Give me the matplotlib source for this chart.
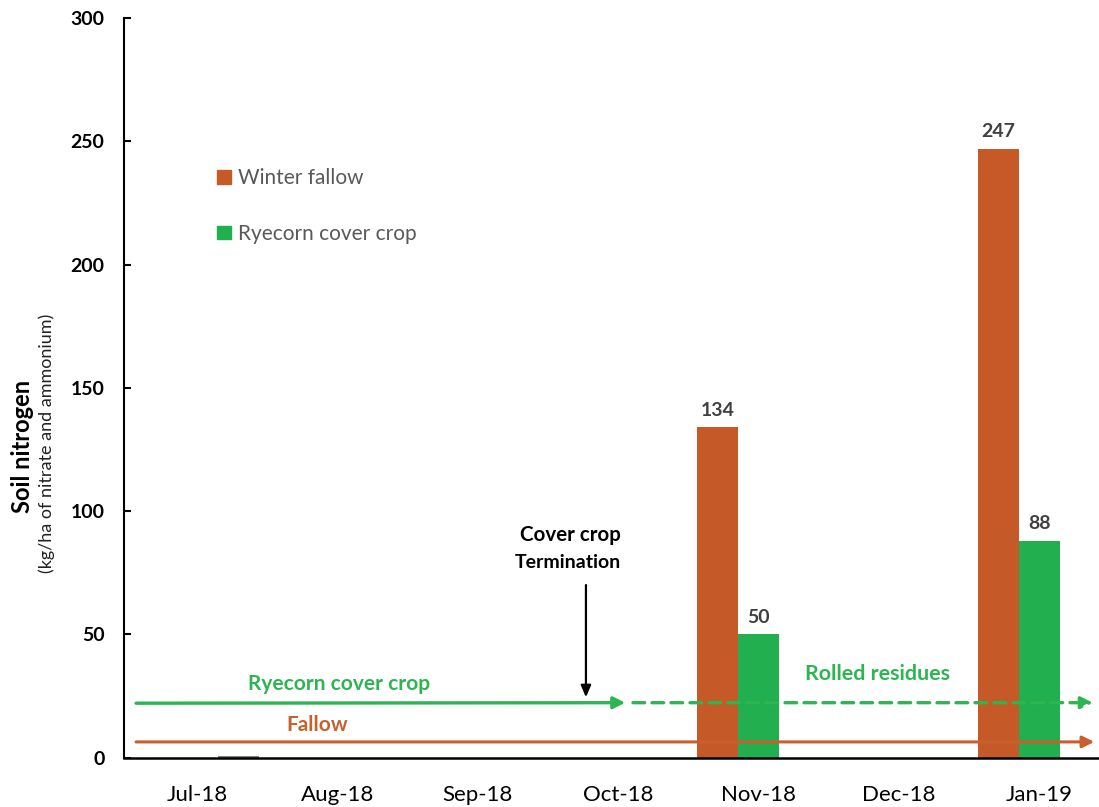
import numpy as np
import matplotlib
matplotlib.use("Agg")
import matplotlib.pyplot as plt
from matplotlib.patches import Patch

plt.rcParams['font.family'] = ['Lato', 'DejaVu Sans']

# Sampling months and soil mineral-N measurements (kg N/ha)
months = ["Jul-18", "Aug-18", "Sep-18", "Oct-18", "Nov-18", "Dec-18", "Jan-19"]
winter_fallow = [np.nan, np.nan, np.nan, np.nan, 134, np.nan, 247]
ryecorn_cover = [np.nan, np.nan, np.nan, np.nan, 50, np.nan, 88]
initial_sample = [0.6, np.nan, np.nan, np.nan, np.nan, np.nan, np.nan]
y_ticks = [0, 50, 100, 150, 200, 250, 300]

ORANGE = "#C55A28"
GREEN = "#21AF50"
ARROW_GREEN = "#2DB551"
ARROW_ORANGE = "#C8602B"
LABEL_GREY = "#404040"

fig = plt.figure(figsize=(10.99, 8.07), dpi=100)
ax = fig.add_axes([124 / 1099, 0.0611, 975 / 1099, 0.9167])

x = np.arange(len(months))
w = 0.292
ax.bar(x - w, winter_fallow, width=w, color=ORANGE, label="Winter fallow", zorder=2)
ax.bar(x, ryecorn_cover, width=w, color=GREEN, label="Ryecorn cover crop", zorder=2)
ax.bar(x + w, initial_sample, width=w, color="#808080", zorder=2)

# value labels above the bars
for xs, vals in ((x - w, winter_fallow), (x, ryecorn_cover)):
    for xi, v in zip(xs, vals):
        if not np.isnan(v):
            ax.annotate(f"{v:g}", (xi, v), xytext=(0, 6), textcoords="offset points",
                        ha="center", va="bottom", fontsize=14, fontweight="bold",
                        color=LABEL_GREY, zorder=4)

ax.set_xlim(-0.52, 6.424)
ax.set_ylim(0, 300)
ax.set_xticks(x)
ax.set_xticklabels(months, fontsize=16)
ax.set_yticks(y_ticks)
ax.set_yticklabels([str(t) for t in y_ticks], fontsize=14, fontweight="bold")
ax.tick_params(axis="x", length=0, pad=20)
ax.tick_params(axis="y", direction="in", length=5, width=1.5, pad=14)

for s in ("top", "right"):
    ax.spines[s].set_visible(False)
ax.spines["left"].set_linewidth(1.5)
ax.spines["bottom"].set_linewidth(1.8)
ax.spines["bottom"].set_zorder(5)

# y-axis titles
fig.text(22 / 1099, 1 - 446 / 807, "Soil nitrogen", rotation=90, ha="center", va="center",
         fontsize=17, fontweight="bold")
fig.text(47 / 1099, 1 - 443 / 807, "(kg/ha of nitrate and ammonium)", rotation=90,
         ha="center", va="center", fontsize=13, color="#222222")

# management timeline arrows
arrow_kw = dict(arrowstyle="-|>,head_length=0.7,head_width=0.35", shrinkA=0, shrinkB=0)
ax.annotate("", xy=(3.05, 22.3), xytext=(-0.434, 22.1),
            arrowprops=dict(color=ARROW_GREEN, lw=2.4, **arrow_kw), zorder=3)
ax.annotate("", xy=(6.38, 22.3), xytext=(3.105, 22.3),
            arrowprops=dict(color=ARROW_GREEN, lw=2.4, linestyle=(0, (3.5, 2.2)), **arrow_kw),
            zorder=3)
ax.annotate("", xy=(6.39, 6.4), xytext=(-0.434, 6.4),
            arrowprops=dict(color=ARROW_ORANGE, lw=2.2, **arrow_kw), zorder=3)
ax.annotate("", xy=(2.77, 24.5), xytext=(2.77, 70.0),
            arrowprops=dict(color="black", lw=1.6,
                            arrowstyle="-|>,head_length=0.7,head_width=0.3",
                            shrinkA=0, shrinkB=0), zorder=3)

ax.text(1.01, 29.8, "Ryecorn cover crop", ha="center", va="center", fontsize=15,
        fontweight="bold", color=ARROW_GREEN)
ax.text(0.855, 13.2, "Fallow", ha="center", va="center", fontsize=15,
        fontweight="bold", color=ARROW_ORANGE)
ax.text(4.85, 33.8, "Rolled residues", ha="center", va="center", fontsize=15.4,
        fontweight="bold", color=ARROW_GREEN)
ax.text(2.656, 90.2, "Cover crop", ha="center", va="center", fontsize=14.8, fontweight="bold")
ax.text(2.642, 79.3, "Termination", ha="center", va="center", fontsize=14, fontweight="bold")

handles = [Patch(color=ORANGE), Patch(color=GREEN)]
leg = ax.legend(handles, ["Winter fallow", "Ryecorn cover crop"], loc="upper left",
                bbox_to_anchor=(217 / 1099, 1 - 168 / 807), bbox_transform=fig.transFigure,
                frameon=False, fontsize=15, handlelength=0.65, handleheight=0.65,
                handletextpad=0.35, labelspacing=1.72, borderpad=0, borderaxespad=0)
for t in leg.get_texts():
    t.set_color("#595959")

fig.savefig("out.png", dpi=100)
